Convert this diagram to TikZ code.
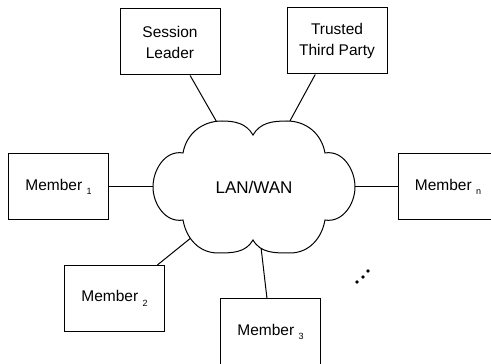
\documentclass[tikz,border=0pt]{standalone}
\usepackage{fontspec}
\setmainfont{Liberation Sans}
\usepackage{tikz}
\usetikzlibrary{shapes, arrows, positioning, backgrounds}
\newcommand{\idx}[1]{\raisebox{-4.5pt}{\fontsize{9}{9}\selectfont #1}}

\begin{document}
\begin{tikzpicture}[x=1pt, y=1pt]
\tikzset{box/.style = {draw, line width=1pt, minimum width=100pt, minimum height=66pt, align=center, font=\fontsize{15.5}{21}\selectfont, inner sep=0pt},
         edge/.style = {line width=1pt}}
\useasboundingbox (0,0) rectangle (491,364);
            % cloud
	\draw[line width=1pt, fill=white] (183,211) to[out=80, in=180] (222,243) to[out=0, in=120] (253,229)
		to[out=60, in=180] (287,243) to[out=0, in=100] (325,211)
		to[out=10, in=90] (355,177) to[out=-90, in=-10] (325,144)
		to[out=-100, in=0] (290,111) to[out=180, in=-60] (253,124)
		to[out=-120, in=0] (218,111) to[out=180, in=-80] (183,144)
		to[out=-170, in=-90] (153,177) to[out=90, in=170] cycle;
            % vertices
	\node[font=\fontsize{17}{17}\selectfont] (lan) at (254,177) {LAN/WAN};
	\node[box] (sl) at (170,322) {Session\\Leader};
	\node[box] (ttp) at (337,323) {Trusted\\Third Party};
	\node[box] (m1) at (58.5,177) {Member \idx{1}};
	\node[box] (mn) at (448,177) {Member \idx{n}};
	\node[box] (m2) at (114.5,65.5) {Member \idx{2}};
	\node[box] (m3) at (270.5,32) {Member \idx{3}};
            %edges
	\begin{pgfonlayer}{background}
	\draw[edge] (sl.-59) -- (lan.center);
	\draw[edge] (ttp.-123) -- (lan.center);
	\draw[edge] (m1) -- (lan.center);
	\draw[edge] (mn) -- (lan.center);
	\draw[edge] (m2.38) -- (lan.center);
	\draw[edge] (m3.96) -- (lan.center);
	\end{pgfonlayer}
            % more members
	\foreach \x/\y in {357/82, 363/87, 368/93}
	\fill (\x,\y) circle (1.9pt);
\end{tikzpicture}
\end{document}
